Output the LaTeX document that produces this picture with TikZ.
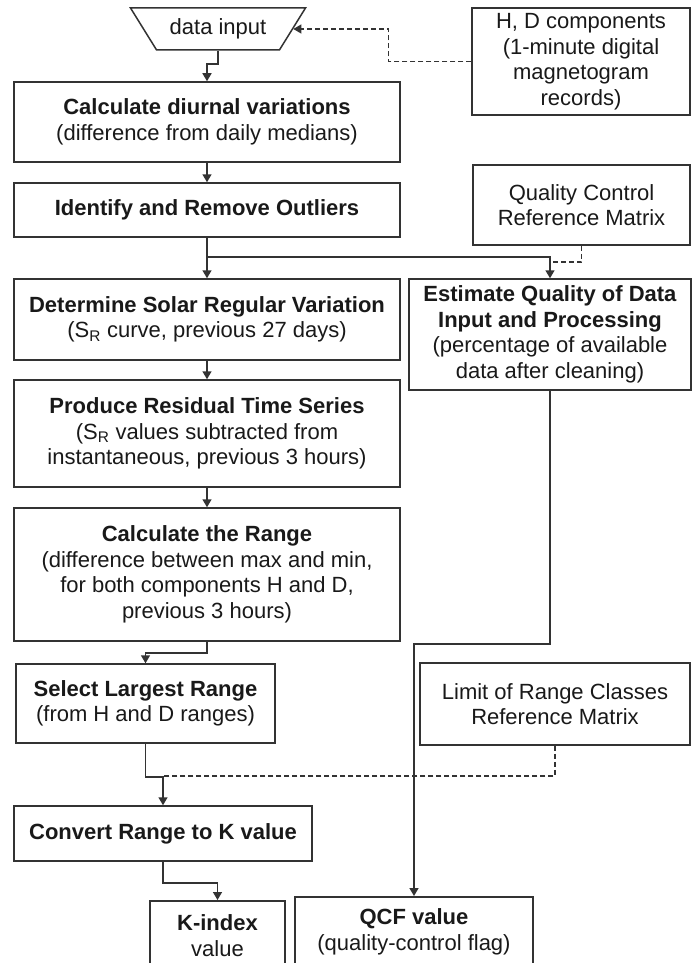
\documentclass[tikz,border=0pt]{standalone}
\usepackage{fontspec}
\setmainfont{Liberation Sans}
\usetikzlibrary{arrows.meta,shapes.geometric}

\begin{document}
\begin{tikzpicture}[
  x=1pt,y=-1pt,
  every node/.style={font=\fontsize{22}{25.5}\selectfont,text=black!90},
  proc/.style={draw=black!80,line width=1.5pt,fill=white,align=center,inner sep=0pt},
  inbox/.style={proc,trapezium,shape border rotate=180,trapezium left angle=45,
    trapezium right angle=45,trapezium stretches=true,
    minimum width=175pt,minimum height=42pt},
  arr/.style={-{Triangle[length=8pt,width=9pt]},line width=1.5pt,draw=black!80},
  dsh/.style={line width=1.3pt,draw=black!80,dash pattern=on 5pt off 3pt}
]
  \path[use as bounding box,clip] (0,0) rectangle (699,963);
  \fill[white] (0,0) rectangle (699,963);

  \node[inbox] (inp) at (218,29) {data input};
  \node[proc,minimum width=218pt,minimum height=107pt] (hd) at (581,61.5)
    {H, D components\\(1-minute digital\\magnetogram\\records)};
  \node[proc,minimum width=386pt,minimum height=80pt] (diur) at (207,122)
    {\textbf{Calculate diurnal variations}\\(difference from daily medians)};
  \node[proc,minimum width=386pt,minimum height=54pt] (outl) at (207,210)
    {\textbf{Identify and Remove Outliers}};
  \node[proc,minimum width=217pt,minimum height=80pt] (qcm) at (581.5,205)
    {Quality Control\\Reference Matrix};
  \node[proc,minimum width=386pt,minimum height=81pt] (solar) at (207,319.5)
    {\textbf{Determine Solar Regular Variation}\\(S\textsubscript{R} curve, previous 27 days)};
  \node[proc,minimum width=282pt,minimum height=111pt] (est) at (550,334.5)
    {\textbf{Estimate Quality of Data}\\\textbf{Input and Processing}\\(percentage of available\\data after cleaning)};
  \node[proc,minimum width=386pt,minimum height=107pt] (resid) at (207,433.5)
    {\textbf{Produce Residual Time Series}\\(S\textsubscript{R} values subtracted from\\instantaneous, previous 3 hours)};
  \node[proc,minimum width=386pt,minimum height=133pt] (range) at (207,574.5)
    {\textbf{Calculate the Range}\\(difference between max and min,\\for both components H and D,\\previous 3 hours)};
  \node[proc,minimum width=259pt,minimum height=79pt] (sel) at (145.5,703.5)
    {\textbf{Select Largest Range}\\(from H and D ranges)};
  \node[proc,minimum width=270pt,minimum height=82pt] (lim) at (555,704)
    {Limit of Range Classes\\Reference Matrix};
  \node[proc,minimum width=298pt,minimum height=55pt] (conv) at (163,833.5)
    {\textbf{Convert Range to K value}};
  \node[proc,minimum width=135pt,minimum height=70pt,anchor=north] (kidx) at (217.5,900)
    {\textbf{K-index}\\value};
  \node[proc,minimum width=238pt,minimum height=70pt,anchor=north] (qcf) at (414,896)
    {\textbf{QCF value}\\(quality-control flag)};

  \coordinate (split) at (207,257);
  \coordinate (qcjoin) at (550,262);
  \coordinate (limjoin) at (163,776);

  \draw[arr] (inp.south) -- ++(0,13) -| (diur.north);
  \draw[dsh,-{Triangle[length=8pt,width=9pt]}] (hd.west) -- ++(-83,0) |- (inp.east);
  \draw[arr] (diur.south) -- (outl.north);
  \draw[arr] (outl.south) -- (solar.north);
  \draw[arr] (split) -| (est.north);
  \draw[dsh] (qcm.south) |- (qcjoin);
  \draw[arr] (solar.south) -- (resid.north);
  \draw[arr] (resid.south) -- (range.north);
  \draw[arr] (range.south) -- ++(0,11) -| (sel.north);
  \draw[arr] (est.south) -- ++(0,253) -| (qcf.north);
  \draw[arr] (sel.south) -- ++(0,33) -| (conv.north);
  \draw[dsh] (lim.south) |- (limjoin);
  \draw[arr] (conv.south) -- ++(0,21) -| (kidx.north);
\end{tikzpicture}
\end{document}
